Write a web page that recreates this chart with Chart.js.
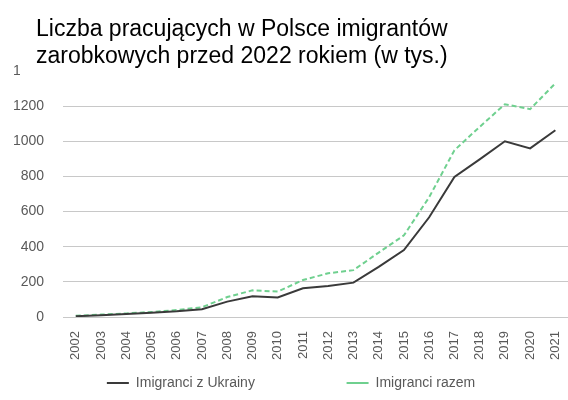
<!DOCTYPE html>
<html>
<head>
<meta charset="utf-8">
<script src="https://cdn.jsdelivr.net/npm/chart.js@4"></script>
<style>
  body { margin: 0; background: #fff; }
</style>
</head>
<body>
<canvas id="myChart" width="568" height="400"></canvas>
<script>
const years = ['2002', '2003', '2004', '2005', '2006', '2007', '2008', '2009', '2010', '2011',
  '2012', '2013', '2014', '2015', '2016', '2017', '2018', '2019', '2020', '2021'];
const ukraina = [5, 10, 18, 25, 33, 45, 88, 118, 112, 164, 177, 196, 286, 381, 568, 797, 897, 1000, 960, 1063];
const razem = [7, 14, 21, 29, 40, 56, 114, 152, 145, 211, 249, 267, 367, 465, 682, 949, 1082, 1211, 1183, 1330];
const titleLines = ['Liczba pracujących w Polsce imigrantów', 'zarobkowych przed 2022 rokiem (w tys.)'];

const FONT = '"Liberation Sans", Arial, sans-serif';

// title box sits over the top of the plot, like in the original
const titleBox = {
  id: 'titleBox',
  afterLayout(chart) {
    // legend sits a bit right of centre
    chart.legend.left += 8;
    chart.legend.right += 8;
  },
  afterDraw(chart) {
    const c = chart.ctx;
    c.save();
    c.fillStyle = '#fff';
    c.fillRect(20, 0, 548, 79);
    c.fillStyle = '#000';
    c.font = '23px ' + FONT;
    c.fillText(titleLines[0], 36, 30);
    c.fillText(titleLines[1], 36, 57);
    c.restore();
  }
};

const ctx = document.getElementById('myChart');
new Chart(ctx, {
  type: 'line',
  data: {
    labels: years,
    datasets: [{
      label: 'Imigranci z Ukrainy',
      data: ukraina,
      borderColor: '#3a3a3a',
      backgroundColor: '#3a3a3a',
      borderWidth: 2,
      pointRadius: 0,
      tension: 0
    }, {
      label: 'Imigranci razem',
      data: razem,
      borderColor: '#6fd08f',
      backgroundColor: '#6fd08f',
      borderWidth: 2,
      borderDash: [5, 3],
      pointRadius: 0,
      tension: 0
    }]
  },
  options: {
    responsive: false,
    animation: false,
    layout: { padding: { top: 71, right: -4, left: -6, bottom: 0 } },
    plugins: {
      title: { display: false },
      tooltip: { enabled: false },
      legend: {
        position: 'bottom',
        labels: {
          usePointStyle: true,
          pointStyle: 'line',
          pointStyleWidth: 22,
          padding: 10,
          color: '#595959',
          font: { family: FONT, size: 14 },
          generateLabels(chart) {
            const items = Chart.defaults.plugins.legend.labels.generateLabels(chart);
            // wide gap between the two entries
            items[0].text += ' '.repeat(21);
            return items;
          }
        }
      }
    },
    scales: {
      x: {
        offset: true,
        grid: { display: false },
        border: { display: false },
        afterFit(scale) {
          scale.paddingRight = 0;
        },
        ticks: {
          minRotation: 90,
          maxRotation: 90,
          padding: 6,
          color: '#595959',
          font: { family: FONT, size: 13 }
        }
      },
      y: {
        min: 0,
        max: 1400,
        grid: { color: '#c8c8c8', drawTicks: false },
        border: { display: false },
        ticks: {
          stepSize: 200,
          padding: 19,
          color: '#595959',
          format: { useGrouping: false },
          font: { family: FONT, size: 14 }
        }
      }
    }
  },
  plugins: [titleBox]
});
</script>
</body>
</html>
